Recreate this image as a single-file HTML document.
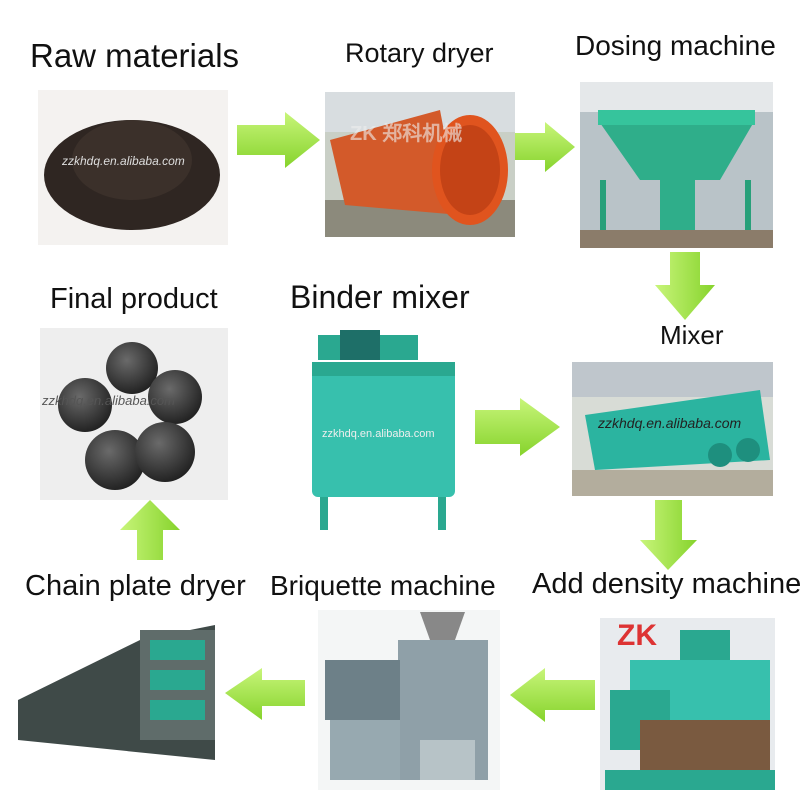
<!DOCTYPE html>
<html><head><meta charset="utf-8"><style>
html,body{margin:0;padding:0;background:#fff;}
svg{display:block}
text{font-family:"Liberation Sans","DejaVu Sans",sans-serif;fill:#111}
</style></head><body>
<svg width="800" height="800" viewBox="0 0 800 800" xmlns="http://www.w3.org/2000/svg">
<defs>
<linearGradient id="ga" x1="0" y1="0" x2="0" y2="1"><stop offset="0" stop-color="#c8f57a"/><stop offset="1" stop-color="#86d32c"/></linearGradient>
<linearGradient id="gv" x1="0" y1="0" x2="1" y2="0"><stop offset="0" stop-color="#c8f57a"/><stop offset="1" stop-color="#86d32c"/></linearGradient>
<radialGradient id="ball" cx="0.4" cy="0.35" r="0.7"><stop offset="0" stop-color="#6a6a6a"/><stop offset="1" stop-color="#1e1e1e"/></radialGradient>
</defs>
<!-- titles -->
<text x="30" y="67" font-size="33">Raw materials</text>
<text x="345" y="62" font-size="27">Rotary dryer</text>
<text x="575" y="55" font-size="28">Dosing machine</text>
<text x="50" y="308" font-size="29">Final product</text>
<text x="290" y="308" font-size="32">Binder mixer</text>
<text x="660" y="344" font-size="26">Mixer</text>
<text x="25" y="595" font-size="29">Chain plate dryer</text>
<text x="270" y="595" font-size="28">Briquette machine</text>
<text x="532" y="593" font-size="29">Add density machine</text>

<!-- Raw materials photo -->
<rect x="38" y="90" width="190" height="155" fill="#f4f2f0"/>
<ellipse cx="132" cy="175" rx="88" ry="55" fill="#2f2622"/>
<ellipse cx="132" cy="160" rx="60" ry="40" fill="#3b302a"/>
<text x="62" y="165" font-size="12" font-style="italic" style="fill:#ddd">zzkhdq.en.alibaba.com</text>

<!-- Rotary dryer -->
<rect x="325" y="92" width="190" height="145" fill="#c9cfc6"/>
<rect x="325" y="92" width="190" height="40" fill="#d8dde0"/>
<rect x="325" y="200" width="190" height="37" fill="#8c8a7c"/>
<polygon points="330,140 440,110 460,215 345,205" fill="#d35a2a"/>
<ellipse cx="470" cy="170" rx="38" ry="55" fill="#e0541e"/>
<ellipse cx="470" cy="170" rx="30" ry="45" fill="#c44316"/>
<text x="350" y="140" font-size="20" font-weight="bold" style="fill:#eee;opacity:.6">ZK 郑科机械</text>

<!-- Dosing machine -->
<rect x="580" y="82" width="193" height="166" fill="#b9c3c8"/>
<rect x="580" y="82" width="193" height="30" fill="#e5e8ea"/>
<polygon points="598,120 755,120 720,180 640,180" fill="#2fae8a"/>
<rect x="598" y="110" width="157" height="15" fill="#36c49c"/>
<rect x="600" y="180" width="6" height="55" fill="#28a07a"/>
<rect x="745" y="180" width="6" height="55" fill="#28a07a"/>
<rect x="660" y="180" width="35" height="50" fill="#2fae8a"/>
<rect x="580" y="230" width="193" height="18" fill="#8b7c6a"/>

<!-- Final product -->
<rect x="40" y="328" width="188" height="172" fill="#eeeeee"/>
<circle cx="132" cy="368" r="26" fill="url(#ball)"/>
<circle cx="85" cy="405" r="27" fill="url(#ball)"/>
<circle cx="175" cy="397" r="27" fill="url(#ball)"/>
<circle cx="115" cy="460" r="30" fill="url(#ball)"/>
<circle cx="165" cy="452" r="30" fill="url(#ball)"/>
<text x="42" y="405" font-size="13" font-style="italic" style="fill:#555">zzkhdq.en.alibaba.com</text>

<!-- Binder mixer -->
<rect x="318" y="335" width="100" height="25" fill="#2aa890"/>
<rect x="340" y="330" width="40" height="30" fill="#1e6f68"/>
<rect x="312" y="362" width="143" height="135" rx="6" fill="#37c0ad"/>
<rect x="312" y="362" width="143" height="14" fill="#2aa890"/>
<rect x="320" y="497" width="8" height="33" fill="#2aa890"/>
<rect x="438" y="497" width="8" height="33" fill="#2aa890"/>
<text x="322" y="437" font-size="11" style="fill:#eee">zzkhdq.en.alibaba.com</text>

<!-- Mixer -->
<rect x="572" y="362" width="201" height="134" fill="#d8dcd6"/>
<rect x="572" y="362" width="201" height="35" fill="#bfc6cc"/>
<rect x="572" y="470" width="201" height="26" fill="#b3ad9d"/>
<polygon points="585,415 760,390 770,460 595,470" fill="#2bb4a0"/>
<circle cx="720" cy="455" r="12" fill="#1e8f7e"/>
<circle cx="748" cy="450" r="12" fill="#1e8f7e"/>
<text x="598" y="428" font-size="14" font-style="italic" style="fill:#222">zzkhdq.en.alibaba.com</text>

<!-- Add density machine -->
<rect x="600" y="618" width="175" height="172" fill="#e8ebee"/>
<rect x="680" y="630" width="50" height="30" fill="#2aa890"/>
<rect x="630" y="660" width="140" height="60" fill="#37c0ad"/>
<rect x="610" y="690" width="60" height="60" fill="#2aa890"/>
<rect x="640" y="720" width="130" height="50" fill="#7a5a40"/>
<rect x="605" y="770" width="170" height="20" fill="#2aa890"/>
<text x="617" y="645" font-size="30" font-weight="bold" style="fill:#d33">ZK</text>

<!-- Briquette machine -->
<rect x="318" y="610" width="182" height="180" fill="#f4f6f6"/>
<polygon points="420,612 465,612 455,640 430,640" fill="#888"/>
<rect x="398" y="640" width="90" height="140" fill="#8fa0a8"/>
<rect x="325" y="660" width="75" height="60" fill="#6d8088"/>
<rect x="330" y="720" width="70" height="60" fill="#97a9b0"/>
<rect x="420" y="740" width="55" height="40" fill="#b7c3c7"/>

<!-- Chain plate dryer -->
<rect x="18" y="625" width="197" height="135" fill="#fff"/>
<polygon points="18,700 140,640 215,625 215,760 18,740" fill="#3f4a48"/>
<rect x="140" y="630" width="75" height="110" fill="#5f6c6a"/>
<rect x="150" y="640" width="55" height="20" fill="#2aa890"/>
<rect x="150" y="670" width="55" height="20" fill="#2aa890"/>
<rect x="150" y="700" width="55" height="20" fill="#2aa890"/>

<!-- arrows -->
<polygon points="237,125 285,125 285,112 320,140 285,168 285,155 237,155" fill="url(#ga)"/>
<polygon points="515,133 545,133 545,122 575,147 545,172 545,160 515,160" fill="url(#ga)"/>
<polygon points="475,410 520,410 520,398 560,427 520,456 520,444 475,444" fill="url(#ga)"/>
<polygon points="595,680 545,680 545,668 510,695 545,722 545,710 595,710" fill="url(#ga)"/>
<polygon points="305,680 262,680 262,668 225,693 262,720 262,706 305,706" fill="url(#ga)"/>
<polygon points="670,252 700,252 700,285 715,285 685,320 655,285 670,285" fill="url(#gv)"/>
<polygon points="655,500 682,500 682,540 697,540 668,570 640,540 655,540" fill="url(#gv)"/>
<polygon points="137,560 163,560 163,530 180,530 150,500 120,530 137,530" fill="url(#gv)"/>
</svg>
</body></html>
